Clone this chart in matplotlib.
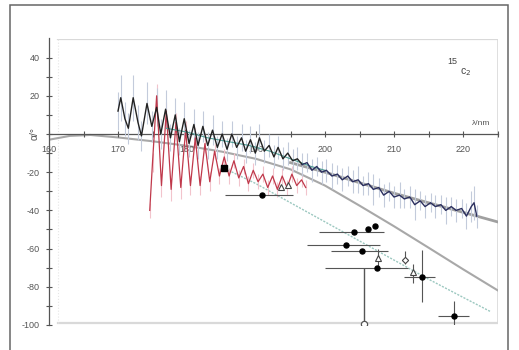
import matplotlib
matplotlib.use("Agg")
import matplotlib.pyplot as plt
from matplotlib.patches import Rectangle

plt.rcParams['font.family'] = ['Liberation Sans', 'DejaVu Sans']

# ---- measured spectrum (black / navy) ----
black_x = [170.0,170.4,171.0,171.5,172.2,172.9,173.4,174.2,174.9,175.6,
           176.2,176.9,177.6,178.3,178.9,179.6,180.3,181.0,181.6,182.3,
           183.0,183.7,184.4,185.1,185.8,186.5,187.2,187.9,188.5,189.2,
           189.9,190.5,191.2,191.9,192.6,193.2,193.9,194.6,195.3,196.0,
           196.7,197.4,198.1,198.8,199.5,200.2,201.0,201.8,202.5,203.3,
           204.0,204.8,205.5,206.3,207.0,207.8,208.5,209.3,210.0,210.8,
           211.5,212.3,213.0,213.8,214.5,215.3,216.0,216.8,217.5,218.3,
           219.0,219.8,220.5,221.2,221.6,222.0]
black_y = [12,19,8,3,19,6,-1,16,4,14,
           0,13,-2,10,-4,8,-5,5,-6,4,
           -6,2,-7,0,-8,0,-7,-2,-9,-3,
           -10,-2,-9,-6,-12,-7,-13,-10,-14,-13,
           -16,-15,-19,-17,-20,-19,-22,-21,-24,-22,
           -25,-24,-27,-26,-29,-28,-32,-30,-33,-32,
           -34,-33,-37,-35,-38,-36,-38,-37,-40,-38,
           -40,-39,-43,-38,-36,-43]
black_err = [10,12,9,8,12,9,8,11,8,10,
             8,10,7,9,7,9,7,8,7,8,
             7,8,6,7,6,7,6,7,6,7,
             6,7,6,6,6,6,6,6,6,6,
             6,5,6,5,6,6,7,5,6,5,
             6,7,5,6,8,5,6,5,6,7,
             5,6,8,5,6,5,6,5,7,5,
             6,5,7,8,9,6]

# ---- second spectrum (red) ----
red_x = [174.6,175.0,175.6,176.3,177.0,177.7,178.4,179.1,179.8,180.5,
         181.2,181.9,182.6,183.3,184.0,184.7,185.4,186.1,186.8,187.5,
         188.2,188.9,189.6,190.3,191.0,191.7,192.4,193.1,193.8,194.5,
         195.2,195.9,196.6,197.2]
red_y = [-40,-15,20,-27,12,-29,6,-28,2,-27,
         -2,-27,-5,-25,-9,-22,-12,-22,-14,-23,
         -17,-26,-19,-25,-21,-28,-22,-29,-22,-28,
         -21,-27,-24,-28]
red_err = [4,5,6,6,5,6,5,6,5,5,
           5,5,5,5,4,4,4,4,4,4,
           4,4,4,4,4,4,4,4,4,4,
           4,4,4,4]

# ---- smooth fit under the data (teal) ----
teal_x = [177,180,183,186,189,192,195,198,200]
teal_y = [3,1,-2,-4,-6,-9,-13,-17,-19]

# ---- model curves ----
c1_x = [195,200,205,210,215,220,225]
c1_y = [-15,-20,-25.5,-31,-36,-41,-46]
c2_x = [160,163,166,170,175,180,185,190,195,200,205,210,215,220,225]
c2_y = [-3,-1,-0.5,-1.8,-3.8,-6.2,-9.2,-13,-18.5,-27,-37.5,-48.3,-59.5,-70.8,-81.8]
c3_x = [186,190,195,200,205,210,215,220,224]
c3_y = [-19,-26,-36,-46,-56,-66,-76,-85.5,-93]

# ---- single points with error bars ----
pt_x    = [190.9,204.2,206.2,207.3,203.1,205.3,207.5,214.1,218.7]
pt_y    = [-32.0,-51.5,-49.9,-48.2,-58.1,-61.3,-70.3,-74.7,-95.1]
pt_xlo  = [185.5,199.1,206.2,207.3,197.4,200.9,200.0,211.5,216.4]
pt_xhi  = [195.3,208.6,206.2,207.3,208.0,209.2,212.0,216.0,220.8]
pt_ylo  = [-32.0,-51.5,-49.9,-48.2,-58.1,-61.3,-70.3,-87.8,-102.0]
pt_yhi  = [-32.0,-51.5,-49.9,-48.2,-58.1,-61.3,-70.3,-60.7,-87.4]

sq_x, sq_y = [185.3], [-17.8]
tri_x   = [207.7,212.8,193.6,194.6]
tri_y   = [-65.0,-72.4,-27.5,-26.5]
tri_ylo = [-69.0,-78.2,-27.5,-26.5]
tri_yhi = [-60.0,-68.2,-27.5,-26.5]
dia_x, dia_y, dia_ylo, dia_yhi = [211.6], [-66.0], [-68.2], [-61.3]
circ_x, circ_y, circ_top = [205.6], [-99.5], [-70.0]

fig = plt.figure(figsize=(5.19, 3.5), dpi=100)
fig.patch.set_facecolor('white')
ax = fig.add_axes([49/519, 25/350, 448.5/519, 286.5/350])
ax.set_xlim(160, 225)
ax.set_ylim(-100, 50)

# light grey plot box
box_c = '#d9d9d9'
ax.plot([161.3, 225], [49.5, 49.5], color=box_c, lw=1.6, zorder=0.5)
ax.plot([225, 225], [-99.2, 49.5], color=box_c, lw=1.2, zorder=0.5)
ax.plot([161.3, 225], [-99.2, -99.2], color=box_c, lw=1.6, zorder=0.5)
ax.plot([161.3, 161.3], [-99.2, 49.5], color='#e6e6e6', lw=0.8, ls=':', zorder=0.5)

# model curves
ax.plot(c2_x, c2_y, color='#a8a8a8', lw=1.5, zorder=1)
ax.plot(c1_x, c1_y, color='#a0a0a0', lw=2.0, zorder=1)
ax.plot(c3_x, c3_y, color='#9cc8c0', lw=1.0, ls=(0, (1.5, 1)), zorder=1)

# error spikes
ax.vlines(red_x, [y - e for y, e in zip(red_y, red_err)],
          [y + e for y, e in zip(red_y, red_err)], color='#f2c4cc', lw=0.8, zorder=1.2)
ax.vlines(black_x, [y - e for y, e in zip(black_y, black_err)],
          [y + e for y, e in zip(black_y, black_err)], color='#c3cbdb', lw=0.8, zorder=1.3)

ax.plot(red_x, red_y, color='#c0394b', lw=0.9, zorder=2)
ax.plot(teal_x, teal_y, color='#4f9f96', lw=0.8, zorder=2.1)
ax.plot(black_x[:41], black_y[:41], color='#222222', lw=1.0, zorder=2.2)
ax.plot(black_x[40:], black_y[40:], color='#2b2f5e', lw=1.0, zorder=2.2)

# points
ecol = '#555555'
ax.hlines(pt_y, pt_xlo, pt_xhi, color=ecol, lw=0.8, zorder=3)
ax.vlines(pt_x, pt_ylo, pt_yhi, color=ecol, lw=0.8, zorder=3)
ax.plot(pt_x, pt_y, 'o', color='black', ms=3.6, zorder=4)
ax.plot(sq_x, sq_y, 's', color='black', ms=3.8, zorder=4)
ax.vlines(tri_x, tri_ylo, tri_yhi, color=ecol, lw=0.8, zorder=3)
ax.plot(tri_x, tri_y, '^', mfc='white', mec='#444444', mew=0.8, ms=4, zorder=4)
ax.vlines(dia_x, dia_ylo, dia_yhi, color=ecol, lw=0.8, zorder=3)
ax.plot(dia_x, dia_y, 'D', mfc='white', mec='#444444', mew=0.8, ms=3.2, zorder=4)
ax.vlines(circ_x, circ_y, circ_top, color=ecol, lw=1.0, zorder=3)
ax.plot(circ_x, circ_y, 'o', mfc='white', mec='#555555', mew=0.9, ms=4.5, zorder=4)

# axes styling
for s in ['top', 'right']:
    ax.spines[s].set_visible(False)
ax.spines['bottom'].set_position(('data', 0))
ax.spines['bottom'].set_color('#555555')
ax.spines['left'].set_color('#555555')
ax.spines['bottom'].set_linewidth(0.9)
ax.spines['left'].set_linewidth(0.9)
ax.spines['bottom'].set_zorder(1.1)

ax.set_xticks([160, 170, 180, 190, 200, 210, 220])
ax.set_xticks([165, 175, 185, 195, 205, 215, 225], minor=True)
ax.set_yticks([40, 20, 0, -20, -40, -60, -80, -100])
ax.set_yticklabels(['40', '20', '', '-20', '-40', '-60', '-80', '-100'])
ax.set_yticks([30, 10, -10, -30, -50, -70, -90], minor=True)
ax.tick_params(axis='both', which='both', direction='inout', colors='#555555',
               labelsize=6.5, labelcolor='#555555', width=0.8)
ax.tick_params(axis='both', which='major', length=5)
ax.tick_params(axis='both', which='minor', length=4)
ax.tick_params(axis='x', pad=5.5)
ax.tick_params(axis='y', pad=4)
ax.xaxis.set_zorder(1.1)
ax.set_facecolor('white')

ax.text(224, 3.5, 'λ/nm', fontsize=6, color='#555555', ha='right', va='bottom')
ax.text(-0.022, 0.0, 'α/°', transform=ax.get_yaxis_transform(), rotation=90,
        fontsize=7.5, color='#555555', ha='right', va='center')
ax.text(217.8, 38.0, '15', fontsize=6.5, color='#444444', ha='left', va='center')
ax.text(219.6, 32.5, 'c$_2$', fontsize=7.5, color='#444444', ha='left', va='center')

# outer frame
fig.add_artist(Rectangle((10/519, -0.02), 498/519, 1.02 - 5/350,
                         transform=fig.transFigure, fill=False,
                         edgecolor='#666666', lw=1.1))

fig.savefig('out.png', dpi=100, facecolor='white')
